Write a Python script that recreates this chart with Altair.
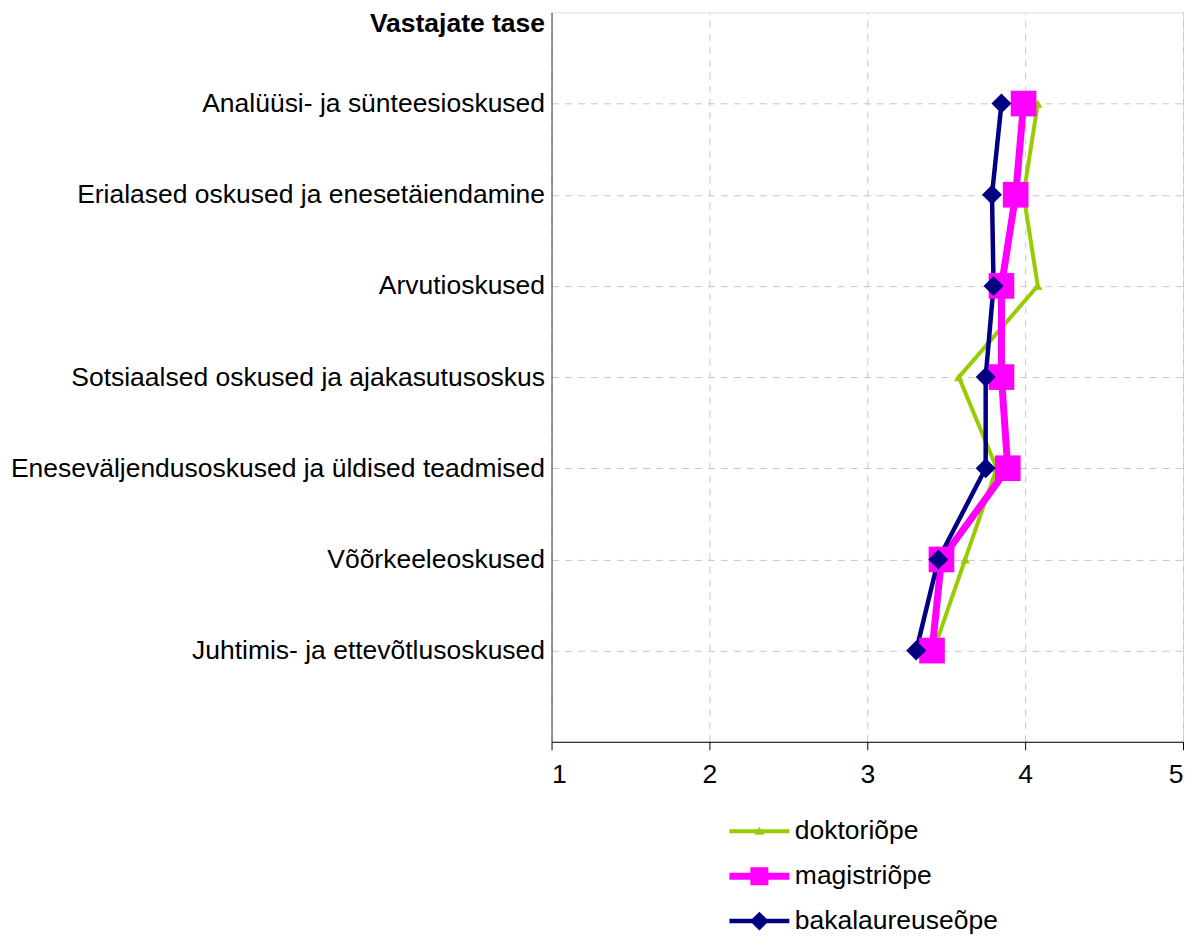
import altair as alt
import pandas as pd

categories = [
    "Analüüsi- ja sünteesioskused",
    "Erialased oskused ja enesetäiendamine",
    "Arvutioskused",
    "Sotsiaalsed oskused ja ajakasutusoskus",
    "Eneseväljendusoskused ja üldised teadmised",
    "Võõrkeeleoskused",
    "Juhtimis- ja ettevõtlusoskused",
]
series_names = ["doktoriõpe", "magistriõpe", "bakalaureuseõpe"]
doktor = [4.08, 3.99, 4.08, 3.58, 3.82, 3.62, 3.42]
magister = [3.99, 3.94, 3.85, 3.85, 3.89, 3.47, 3.41]
bakalaureus = [3.85, 3.79, 3.80, 3.75, 3.75, 3.45, 3.31]
x_ticks = [1, 2, 3, 4, 5]
y_title = "Vastajate tase"

colors = ["#99CC00", "#FF00FF", "#000080"]
line_widths = [4, 7, 4.5]
marker_shapes = ["triangle-up", "square", "diamond"]
marker_sizes = [90, 660, 400]
legend_shapes = [
    "M-1.333,-0.089L1.333,-0.089L1.333,0.089L-1.333,0.089Z M0,-0.2L0.22,0.16L-0.22,0.16Z",
    "M-1.333,-0.156L1.333,-0.156L1.333,0.156L-1.333,0.156Z M-0.4,-0.4L0.4,-0.4L0.4,0.4L-0.4,0.4Z",
    "M-1.333,-0.1L1.333,-0.1L1.333,0.1L-1.333,0.1Z M0,-0.42L0.42,0L0,0.42L-0.42,0Z",
]

rows = []
for s, vals in zip(series_names, [doktor, magister, bakalaureus]):
    for i, (c, v) in enumerate(zip(categories, vals)):
        rows.append({"cat": c, "series": s, "val": v, "idx": i})
df = pd.DataFrame(rows)

FONT = "Liberation Sans"
FS = 26.5
grid_dash = [7, 6]

x_enc = alt.X(
    "val:Q",
    scale=alt.Scale(domain=[1, 5], nice=False, zero=False),
    axis=alt.Axis(
        values=x_ticks, title=None, grid=True, gridDash=grid_dash, gridColor="#c8c8c8",
        domainColor="black", tickColor="black", tickSize=8, labelFontSize=FS,
        labelPadding=12, labelColor="black", labelFont=FONT, format="d",
    ),
)
y_enc = alt.Y(
    "cat:N",
    scale=alt.Scale(type="point", domain=categories, padding=1),
    sort=categories,
    axis=alt.Axis(
        title=y_title, titleAngle=0, titleAlign="right", titleBaseline="middle",
        titleX=-7, titleY=11, titleFontSize=FS, titleFontWeight="bold", titleFont=FONT,
        titleColor="black",
        grid=True, gridDash=grid_dash, gridColor="#c8c8c8", ticks=False,
        labelFontSize=FS, labelPadding=7, labelColor="black", labelFont=FONT,
        labelLimit=0, domainColor="#404040",
    ),
)

color_scale = alt.Scale(domain=series_names, range=colors)

lines = alt.Chart(df).mark_line().encode(
    x=x_enc,
    y=y_enc,
    color=alt.Color("series:N", scale=color_scale, legend=None),
    strokeWidth=alt.StrokeWidth(
        "series:N", scale=alt.Scale(type="ordinal", domain=series_names, range=line_widths), legend=None
    ),
    order=alt.Order("idx:Q"),
)

points = alt.Chart(df).mark_point(filled=True, opacity=1, strokeWidth=0).encode(
    x=x_enc,
    y=y_enc,
    color=alt.Color("series:N", scale=color_scale, legend=None),
    shape=alt.Shape("series:N", scale=alt.Scale(domain=series_names, range=marker_shapes), legend=None),
    size=alt.Size(
        "series:N", scale=alt.Scale(type="ordinal", domain=series_names, range=marker_sizes), legend=None
    ),
)

legend_spec = alt.Legend(
    title=None, orient="none", legendX=185.5, legendY=797, padding=0,
    symbolSize=2025, symbolStrokeWidth=0, symbolOpacity=1, rowPadding=9,
    labelFontSize=FS, labelFont=FONT, labelColor="black", labelOffset=13, labelLimit=0,
    direction="vertical",
)

legend_layer = alt.Chart(df).transform_filter("false").mark_point(filled=True, opacity=1).encode(
    x=x_enc,
    y=y_enc,
    color=alt.Color("series:N", scale=color_scale, legend=legend_spec),
    shape=alt.Shape("series:N", scale=alt.Scale(domain=series_names, range=legend_shapes), legend=legend_spec),
)

chart = (
    alt.layer(lines, points, legend_layer)
    .resolve_scale(shape="independent", color="independent")
    .properties(width=632, height=730, padding={"left": 2, "top": 2, "right": 12, "bottom": 0})
    .configure_view(stroke="black", strokeWidth=1)
    .configure(background="white")
)

chart.save("out.html", embed_options={"renderer": "svg", "actions": False})
